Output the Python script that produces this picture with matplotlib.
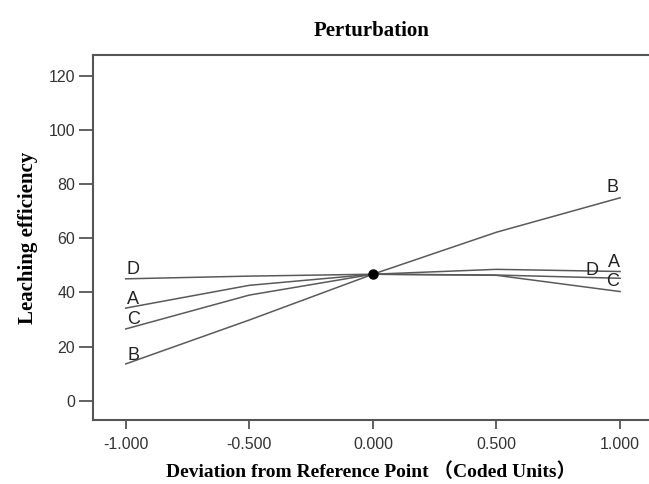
import matplotlib
matplotlib.use("Agg")
import matplotlib.pyplot as plt

x_dev = [-1.0, -0.5, 0.0, 0.5, 1.0]
series_A = [34.2, 42.6, 46.7, 48.5, 47.7]
series_B = [13.6, 29.8, 46.7, 62.2, 74.9]
series_C = [26.5, 39.0, 46.7, 46.3, 40.3]
series_D = [45.0, 46.0, 46.7, 46.4, 45.2]
ref_point = (0.0, 46.7)

left_labels = {"D": 48.6, "A": 37.4, "C": 30.0, "B": 16.6}
right_labels = {"B": (0.97, 78.6), "A": (0.975, 51.2), "D": (0.885, 48.0), "C": (0.97, 44.0)}

xticks = [-1.0, -0.5, 0.0, 0.5, 1.0]
xtick_labels = ["-1.000", "-0.500", "0.000", "0.500", "1.000"]
yticks = [0, 20, 40, 60, 80, 100, 120]

fig = plt.figure(figsize=(6.49, 4.84), dpi=100)
ax = fig.add_axes([0.1438, 0.1322, 0.8562, 0.7542])

line_col = "#5a5a5a"
for ys in (series_A, series_B, series_C, series_D):
    ax.plot(x_dev, ys, color=line_col, lw=1.1)
ax.plot([ref_point[0]], [ref_point[1]], "o", color="black", ms=6.5, zorder=5)

lab_font = dict(family="Liberation Sans", fontsize=13, color="#222222")
for k, y in left_labels.items():
    ax.text(-0.97, y, k, ha="center", va="center", **lab_font)
for k, (xx, y) in right_labels.items():
    ax.text(xx, y, k, ha="center", va="center", **lab_font)

ax.set_xlim(-1.131, 1.117)
ax.set_ylim(-7.1, 127.6)
ax.set_xticks(xticks)
ax.set_xticklabels(xtick_labels)
ax.set_yticks(yticks)

ax.spines["right"].set_visible(False)
for s in ("left", "top", "bottom"):
    ax.spines[s].set_color("#555555")
    ax.spines[s].set_linewidth(1.5)

ax.tick_params(axis="y", direction="out", length=10, width=1.3, color="#555555",
               labelsize=11.5, labelcolor="#333333", pad=3)
ax.tick_params(axis="x", direction="out", length=6.5, width=1.3, color="#555555",
               labelsize=11.5, labelcolor="#333333", pad=6)
for t in ax.get_xticklabels() + ax.get_yticklabels():
    t.set_family("Liberation Sans")

serif = ["Liberation Serif", "Noto Sans CJK SC"]
ax.set_title("Perturbation", family=serif, fontweight="bold", fontsize=15, pad=14)
ax.set_xlabel("Deviation from Reference Point （Coded Units）", family=serif,
              fontweight="bold", fontsize=14, labelpad=7)
ax.set_ylabel("Leaching efficiency", family=serif, fontweight="bold", fontsize=15,
              labelpad=8)

fig.savefig("out.png", dpi=100)
